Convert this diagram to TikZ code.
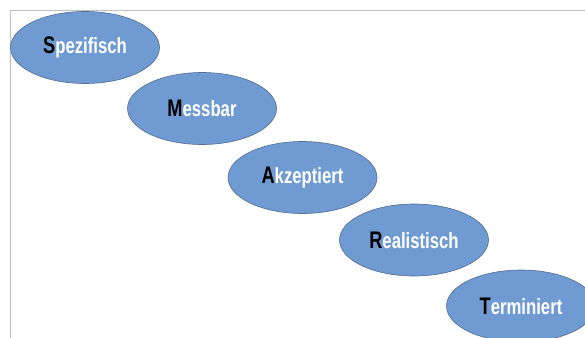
\documentclass[tikz,border=0pt]{standalone}
\usepackage{fontspec}
\setmainfont{Liberation Sans}
\newfontfamily\narrowfont[FakeStretch=0.76]{Liberation Sans}
\usetikzlibrary{shapes.geometric}
\definecolor{goalfill}{RGB}{111,155,210}
\definecolor{goalline}{RGB}{82,108,146}
\definecolor{framegray}{RGB}{190,190,190}
\newcommand{\goalword}[2]{{\color{black}\fontsize{24}{24}\selectfont #1}#2}

\begin{document}
\begin{tikzpicture}[x=1pt,y=-1pt]
\tikzstyle{every node}=[ellipse, minimum width=149pt, minimum height=72pt, inner sep=0pt,
  draw=goalline, line width=.6pt, fill=goalfill, text=white, font=\narrowfont\bfseries\fontsize{22}{22}\selectfont]
\useasboundingbox (0,0) rectangle (585,337);
\clip (0,0) rectangle (585,337);
\draw[framegray, line width=1pt] (10.5,340) -- (10.5,11) -- (590,11);
\draw (85,47.5) node (spez) {\goalword{S}{pezifisch}};
\draw (202,108.5) node (mess) {\goalword{M}{essbar}};
\draw (302.5,177.5) node (akz) {\goalword{A}{kzeptiert}};
\draw (414,240) node (real) {\goalword{R}{ealistisch}};
\draw (521,306) node (term) {\goalword{T}{erminiert}};
\end{tikzpicture}
\end{document}
